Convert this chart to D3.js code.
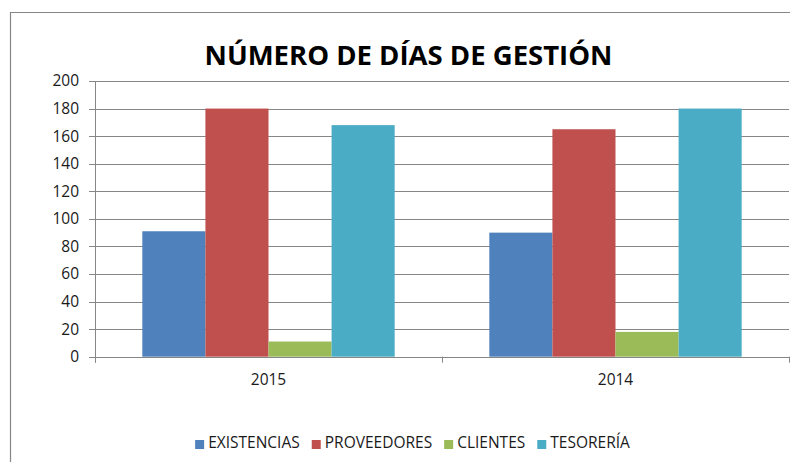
<!DOCTYPE html>
<html>
<head>
<meta charset="utf-8">
<script src="https://cdn.jsdelivr.net/npm/d3@7"></script>
<style>
  body { margin: 0; background: #fff; }
  text { font-family: "Open Sans", "Liberation Sans", sans-serif; }
</style>
</head>
<body>
<div id="chart"></div>
<script>
// Data
const years = ["2015", "2014"];
const series = ["EXISTENCIAS", "PROVEEDORES", "CLIENTES", "TESORERÍA"];
const existencias = [91, 90];
const proveedores = [180, 165];
const clientes = [11, 18];
const tesoreria = [168, 180];
const colors = ["#4F81BD", "#C0504D", "#9BBB59", "#4BACC6"];
const yTicks = [0, 20, 40, 60, 80, 100, 120, 140, 160, 180, 200];

const values = [existencias, proveedores, clientes, tesoreria];

const width = 790;
const height = 462;
const plot = { left: 95, right: 789, top: 81, bottom: 356.7 };
const axisColor = "#868686";

const svg = d3.select("#chart").append("svg")
    .attr("width", width)
    .attr("height", height);

// Outer chart frame (cut off on the right and bottom)
svg.append("path")
    .attr("d", `M10.5,${height}V12.5H${width}`)
    .attr("fill", "none")
    .attr("stroke", axisColor)
    .attr("stroke-width", 1.2);

// Title
svg.append("text")
    .attr("x", 408.5)
    .attr("y", 64.5)
    .attr("text-anchor", "middle")
    .attr("font-size", 27.5)
    .attr("font-weight", "bold")
    .attr("fill", "#000")
    .text("NÚMERO DE DÍAS DE GESTIÓN");

// Scales
const y = d3.scaleLinear().domain([0, 200]).range([plot.bottom, plot.top]);
const x0 = d3.scaleBand().domain(years).range([plot.left, plot.right]);
const x1 = d3.scaleBand().domain(series).range([0, x0.bandwidth()])
    .paddingInner(0).paddingOuter(0.75);

// Gridlines
svg.append("g")
    .selectAll("line")
    .data(yTicks)
    .enter().append("line")
    .attr("x1", plot.left - 6)
    .attr("x2", plot.right)
    .attr("y1", d => Math.round(y(d)) + 0.5)
    .attr("y2", d => Math.round(y(d)) + 0.5)
    .attr("stroke", axisColor)
    .attr("stroke-width", 1);

// Y axis labels
svg.append("g")
    .selectAll("text")
    .data(yTicks)
    .enter().append("text")
    .attr("x", 79)
    .attr("y", d => y(d))
    .attr("dy", "0.35em")
    .attr("text-anchor", "end")
    .attr("font-size", 15.5)
    .attr("fill", "#1a1a1a")
    .text(d => d);

// Y axis line
svg.append("line")
    .attr("x1", plot.left + 0.5).attr("x2", plot.left + 0.5)
    .attr("y1", plot.top).attr("y2", plot.bottom + 6)
    .attr("stroke", axisColor);

// Category ticks under the x axis
const boundaries = years.map(d => x0(d)).concat([plot.right]);
svg.append("g")
    .selectAll("line")
    .data(boundaries)
    .enter().append("line")
    .attr("x1", d => Math.round(d) + 0.5)
    .attr("x2", d => Math.round(d) + 0.5)
    .attr("y1", plot.bottom)
    .attr("y2", plot.bottom + 6)
    .attr("stroke", axisColor);

// Bars
const groups = svg.append("g")
    .selectAll("g")
    .data(years)
    .enter().append("g")
    .attr("transform", d => `translate(${x0(d)},0)`);

groups.selectAll("rect")
    .data((yr, i) => series.map((s, j) => ({ s, j, v: values[j][i] })))
    .enter().append("rect")
    .attr("x", d => x1(d.s))
    .attr("width", x1.bandwidth())
    .attr("y", d => y(d.v))
    .attr("height", d => y(0) - y(d.v))
    .attr("fill", d => colors[d.j]);

// X labels
svg.append("g")
    .selectAll("text")
    .data(years)
    .enter().append("text")
    .attr("x", d => x0(d) + x0.bandwidth() / 2)
    .attr("y", 385)
    .attr("text-anchor", "middle")
    .attr("font-size", 15.5)
    .attr("fill", "#1a1a1a")
    .text(d => d);

// Legend, centred
const legend = svg.append("g");
const items = legend.selectAll("g")
    .data(series)
    .enter().append("g");
items.append("rect")
    .attr("width", 9)
    .attr("height", 9)
    .attr("y", -8)
    .attr("fill", (d, i) => colors[i]);
items.append("text")
    .attr("x", 13)
    .attr("font-size", 15.5)
    .attr("fill", "#1a1a1a")
    .text(d => d);

let offset = 0;
items.each(function () {
    const g = d3.select(this);
    g.attr("transform", `translate(${offset},0)`);
    offset += 13 + g.select("text").node().getComputedTextLength() + 12;
});
const total = offset - 12;
legend.attr("transform", `translate(${412.5 - total / 2},448)`);
</script>
</body>
</html>
